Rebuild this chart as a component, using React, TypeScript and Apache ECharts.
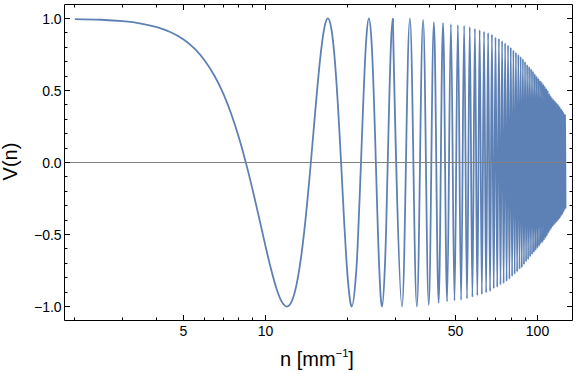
import React, { useEffect, useRef } from "react";
import * as echarts from "echarts";

// Densely read part of the curve, n = 2 ... 29.39
const approachN = [
  2, 2.5, 3, 3.5, 4, 4.5, 5, 5.5, 6, 6.5, 7, 7.5, 8, 8.5, 9, 9.5, 10, 10.5, 11, 11.5,
  12, 12.5, 13, 13.5, 14, 14.5, 15, 15.5, 16, 16.5, 16.97, 17.5, 18, 18.5, 19, 19.5,
  20, 20.5, 20.78, 21.5, 22, 22.5, 23, 23.5, 24, 24.5, 25, 25.5, 26, 26.5, 26.83,
  27.5, 28, 28.5, 29, 29.39,
];
const approachV = [
  0.996, 0.991, 0.981, 0.965, 0.94, 0.904, 0.855, 0.79, 0.707, 0.604, 0.482, 0.337, 0.174, -0.006, -0.195, -0.388, -0.574, -0.741, -0.877, -0.968,
  -1, -0.9645, -0.8549, -0.6716, -0.4226, -0.125, 0.1951, 0.5045, 0.766, 0.9415, 1, 0.9218, 0.7071, 0.3778, -0.0218, -0.428,
  -0.766, -0.9674, -1, -0.7898, -0.4226, 0.0491, 0.5195, 0.8695, 1, 0.8633, 0.4818, -0.049, -0.5736, -0.926, -1,
  -0.703, -0.1749, 0.4267, 0.8767, 1,
];

// Positions and heights of the successive peaks and troughs from n = 29.39 on
const extremaN = [
  29.39, 31.75, 33.94, 36.0, 37.95,
  39.8, 41.57, 43.27, 44.9, 46.48, 48.0, 49.48, 50.91, 52.31, 53.67,
  54.99, 56.28, 57.55, 58.79, 60.0, 61.19, 62.35, 63.5, 64.62, 65.73,
  66.81, 67.88, 68.93, 69.97, 70.99, 72.0, 72.99, 73.97, 74.94, 75.89,
  76.84, 77.77, 78.69, 79.6, 80.5, 81.39, 82.27, 83.14, 84.0, 84.85,
  85.7, 86.53, 87.36, 88.18, 88.99, 89.8, 90.6, 91.39, 92.17, 92.95,
  93.72, 94.49, 95.25, 96.0, 96.75, 97.49, 98.22, 98.95, 99.68, 100.4,
  101.11, 101.82, 102.53, 103.23, 103.92, 104.61, 105.3, 105.98, 106.66, 107.33,
  108.0, 108.66, 109.32, 109.98, 110.63, 111.28, 111.92, 112.57, 113.21, 113.84,
  114.47, 115.1, 115.72, 116.35, 116.96, 117.58, 118.19, 118.79, 119.4, 120.0,
  120.6, 121.19, 121.79, 122.38, 122.96, 123.55, 124.13, 124.71, 125.28, 125.86, 126.43,
];
const extremaV = [
  1, -1, 1, -1, 0.99,
  -0.99, 0.975, -0.975, 0.97, -0.965, 0.96, -0.96, 0.955, -0.955, 0.95,
  -0.945, 0.94, -0.935, 0.93, -0.925, 0.92, -0.915, 0.91, -0.905, 0.9,
  -0.895, 0.89, -0.875, 0.87, -0.865, 0.86, -0.85, 0.845, -0.84, 0.83,
  -0.825, 0.815, -0.81, 0.8, -0.79, 0.78, -0.775, 0.765, -0.76, 0.75,
  -0.74, 0.735, -0.73, 0.72, -0.71, 0.7, -0.69, 0.68, -0.675, 0.665,
  -0.655, 0.65, -0.64, 0.635, -0.625, 0.615, -0.61, 0.6, -0.595, 0.585,
  -0.58, 0.57, -0.565, 0.56, -0.555, 0.545, -0.54, 0.53, -0.525, 0.515,
  -0.51, 0.5, -0.49, 0.48, -0.475, 0.465, -0.46, 0.45, -0.445, 0.44,
  -0.435, 0.43, -0.425, 0.42, -0.415, 0.41, -0.405, 0.4, -0.395, 0.39,
  -0.385, 0.375, -0.37, 0.365, -0.36, 0.355, -0.345, 0.34, -0.33, 0.33, -0.32,
];

const xRange = [1.833, 134.1];
const yRange = [-1.097, 1.097];

const xMajorTicks = [5, 10, 50, 100];
const xMajorLabels = ["5", "10", "50", "100"];
const xMinorTicks = [2, 3, 4, 6, 7, 8, 9, 20, 30, 40, 60, 70, 80, 90];
const yMajorTicks = [-1, -0.5, 0, 0.5, 1];
const yMajorLabels = ["\u22121.0", "\u22120.5", "0.0", "0.5", "1.0"];
const yMinorTicks = [-0.9, -0.8, -0.7, -0.6, -0.4, -0.3, -0.2, -0.1, 0.1, 0.2, 0.3, 0.4, 0.6, 0.7, 0.8, 0.9];

const xTitleMain = "n [mm";
const xTitleSup = "\u22121";
const xTitleEnd = "]";
const yTitle = "V(n)";

const FONT = '"Liberation Sans", Arial, Helvetica, sans-serif';
const CURVE = "#5E81B5";

export default function App() {
  const ref = useRef<HTMLDivElement>(null);

  useEffect(() => {
    const el = ref.current!;
    const chart = echarts.init(el, null, { renderer: "svg" });
    const lineStyle = { color: CURVE, width: 1.8 };

    chart.setOption({
      animation: false,
      grid: {
        left: 64.5,
        right: 3.5,
        top: 4.5,
        bottom: 53.5,
        show: true,
        borderColor: "#000",
        borderWidth: 1,
        backgroundColor: "transparent",
      },
      xAxis: {
        type: "log",
        logBase: 10,
        min: xRange[0],
        max: xRange[1],
        axisLine: { show: false },
        axisTick: { show: false },
        axisLabel: { show: false },
        splitLine: { show: false },
      },
      yAxis: {
        type: "value",
        min: yRange[0],
        max: yRange[1],
        axisLine: { show: false },
        axisTick: { show: false },
        axisLabel: { show: false },
        splitLine: { show: false },
      },
      series: [
        {
          type: "line",
          data: approachN.map((n, i) => [n, approachV[i]]),
          symbol: "none",
          smooth: 0.35,
          lineStyle,
          silent: true,
        },
        {
          type: "line",
          data: extremaN.map((n, i) => [n, extremaV[i]]),
          symbol: "none",
          smooth: 0.363,
          smoothMonotone: "x",
          lineStyle,
          silent: true,
        },
      ],
    });

    const toPx = (x: number, y: number) =>
      chart.convertToPixel({ gridIndex: 0 }, [x, y]) as number[];
    const snap = (v: number) => Math.round(v - 0.5) + 0.5;

    const [gl, gb] = toPx(xRange[0], yRange[0]);
    const [gr, gt] = toPx(xRange[1], yRange[1]);

    const elements: any[] = [];
    const line = (x1: number, y1: number, x2: number, y2: number, stroke = "#000") =>
      elements.push({
        type: "line",
        silent: true,
        z: 100,
        shape: { x1, y1, x2, y2 },
        style: { stroke, lineWidth: 1 },
      });
    const text = (t: string, x: number, y: number, align: string, size: number, extra: any = {}) =>
      elements.push({
        type: "text",
        silent: true,
        z: 100,
        x,
        y,
        ...extra,
        style: {
          text: t,
          fill: "#000",
          fontSize: size,
          fontFamily: FONT,
          align,
          textAlign: align,
          verticalAlign: "middle",
          textVerticalAlign: "middle",
        },
      });

    // zero axis line
    const y0 = snap(toPx(xRange[0], 0)[1]);
    line(gl, y0, gr, y0, "#808080");

    // x ticks (bottom and top)
    xMajorTicks.forEach((v, i) => {
      const x = snap(toPx(v, 0)[0]);
      line(x, gb, x, gb - 5.5);
      line(x, gt, x, gt + 5.5);
      text(xMajorLabels[i], x, gb + 10, "center", 14);
    });
    xMinorTicks.forEach((v) => {
      const x = snap(toPx(v, 0)[0]);
      line(x, gb, x, gb - 3);
      line(x, gt, x, gt + 3);
    });

    // y ticks (left and right)
    yMajorTicks.forEach((v, i) => {
      const y = snap(toPx(xRange[0], v)[1]);
      line(gl, y, gl + 5.5, y);
      line(gr, y, gr - 5.5, y);
      text(yMajorLabels[i], gl - 2.9, y, "right", 14);
    });
    yMinorTicks.forEach((v) => {
      const y = snap(toPx(xRange[0], v)[1]);
      line(gl, y, gl + 3, y);
      line(gr, y, gr - 3, y);
    });

    // axis titles
    elements.push({
      type: "text",
      silent: true,
      z: 100,
      x: (gl + gr) / 2 - 1.5,
      y: 359,
      style: {
        text: `{a|${xTitleMain}}{s|${xTitleSup}}{a|${xTitleEnd}}`,
        align: "center",
        textAlign: "center",
        verticalAlign: "middle",
        textVerticalAlign: "middle",
        rich: {
          a: { fontSize: 20, fontFamily: FONT, fill: "#000", lineHeight: 24 },
          s: { fontSize: 11.2, fontFamily: FONT, fill: "#000", lineHeight: 13, verticalAlign: "top" },
        },
      },
    });
    text(yTitle, 10, (gt + gb) / 2 - 1, "center", 20, { rotation: Math.PI / 2 });

    chart.setOption({ graphic: elements });

    return () => chart.dispose();
  }, []);

  return (
    <div
      ref={ref}
      style={{ position: "absolute", left: 0, top: 0, width: 576, height: 374 }}
    />
  );
}
